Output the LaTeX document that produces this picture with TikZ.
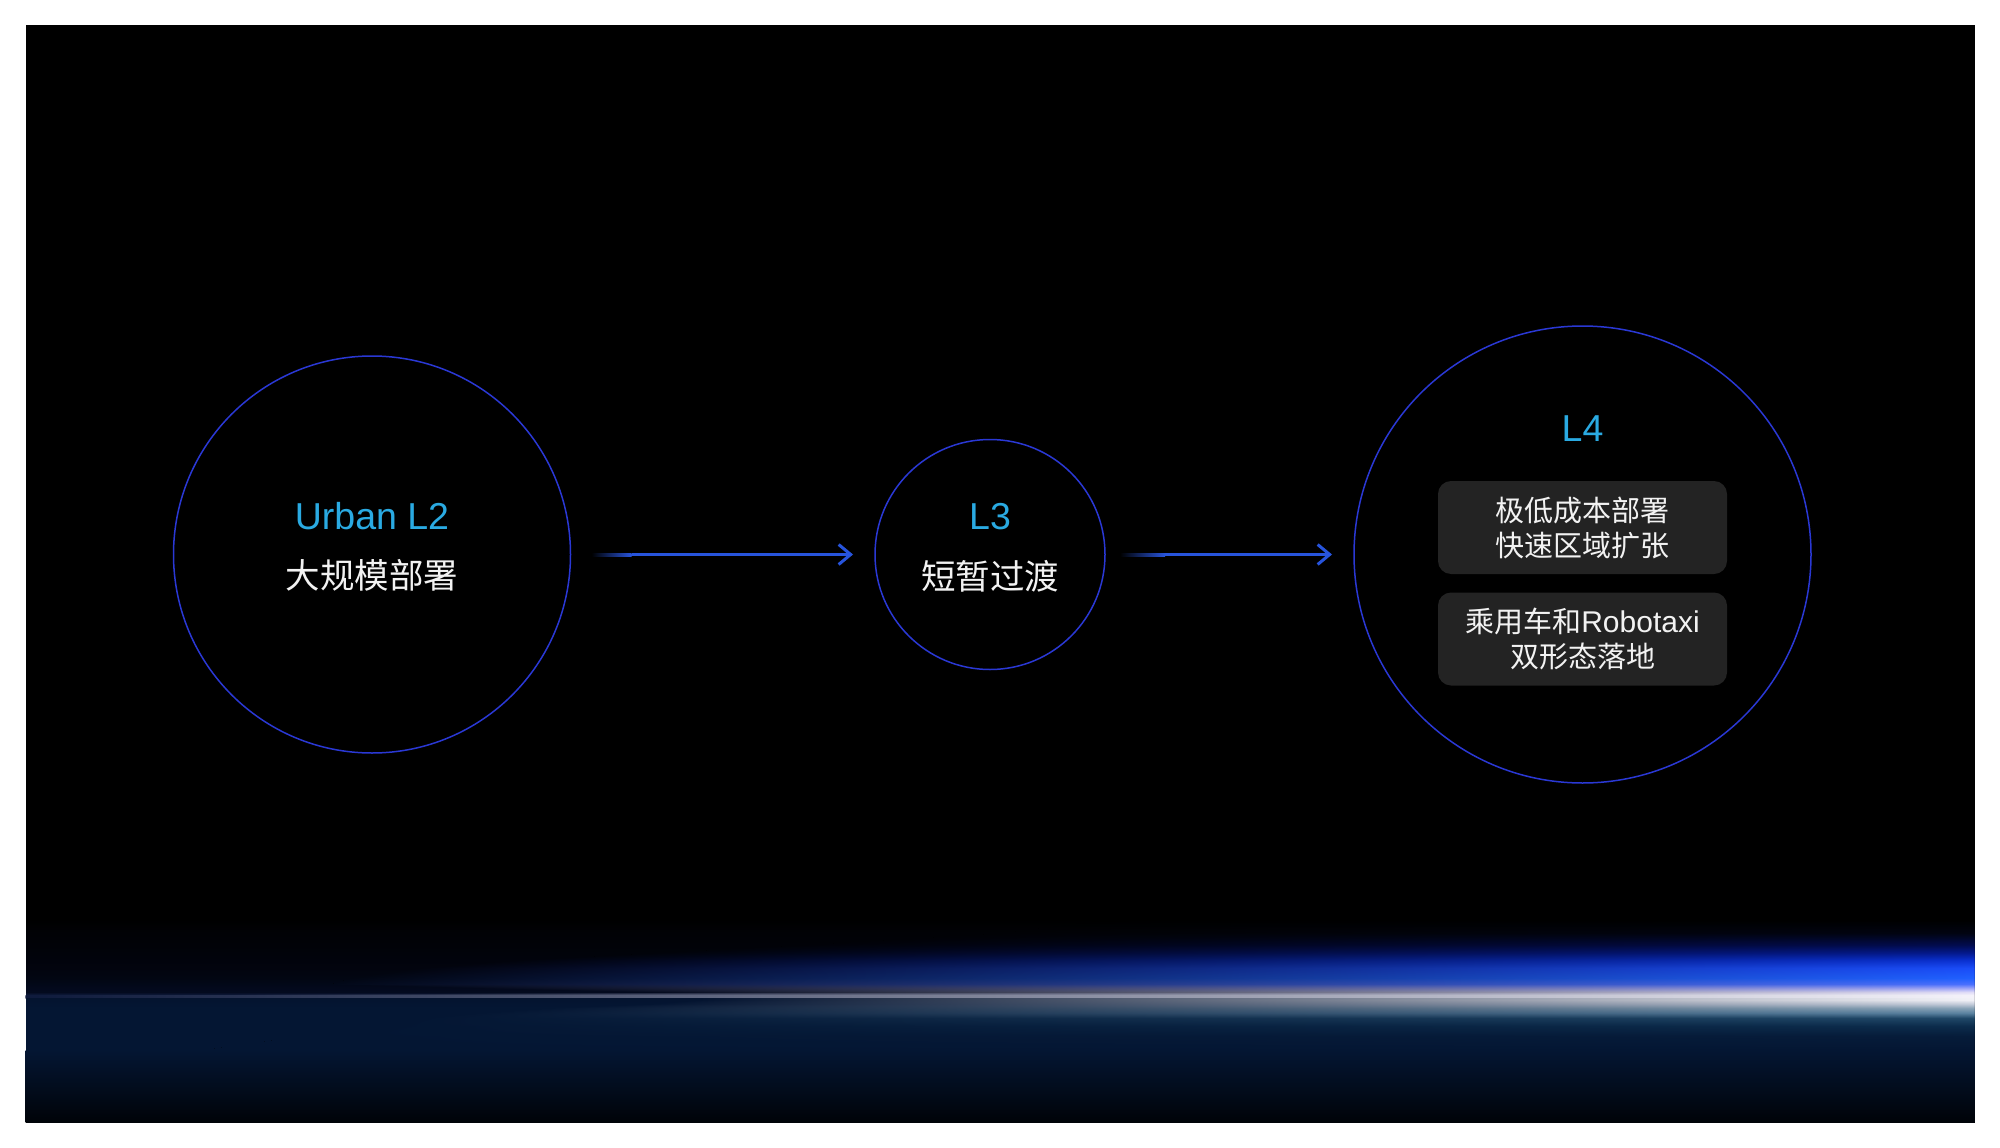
\documentclass[tikz,border=0pt]{standalone}
\usepackage{fontspec}
\setmainfont{Liberation Sans}
\newfontfamily\cjk{Noto Sans CJK SC}
\usetikzlibrary{arrows.meta,calc}

\definecolor{cyanT}{HTML}{2AAAE2}
\definecolor{txtW}{HTML}{F2F2F2}
\definecolor{ringB}{HTML}{2A38D4}
\definecolor{arrB}{HTML}{2754DC}
\definecolor{boxG}{HTML}{232323}
\definecolor{nvTop}{HTML}{041633}
\definecolor{nvMid}{HTML}{031028}
\definecolor{nvBot}{HTML}{000308}
% glow key rows: peak colour (right end), middle colour, background (left) colour
\definecolor{gP0}{HTML}{000000}\definecolor{gM0}{HTML}{000000}\definecolor{gB0}{HTML}{000000}
\definecolor{gP1}{HTML}{010412}\definecolor{gM1}{HTML}{01030E}\definecolor{gB1}{HTML}{010206}
\definecolor{gP2}{HTML}{020C50}\definecolor{gM2}{HTML}{010A3C}\definecolor{gB2}{HTML}{010208}
\definecolor{gP3}{HTML}{041A90}\definecolor{gM3}{HTML}{031670}\definecolor{gB3}{HTML}{01030A}
\definecolor{gP4}{HTML}{0A30D0}\definecolor{gM4}{HTML}{0828B0}\definecolor{gB4}{HTML}{01030C}
\definecolor{gP5}{HTML}{1A4CF8}\definecolor{gM5}{HTML}{1640E0}\definecolor{gB5}{HTML}{02040E}
\definecolor{gP6}{HTML}{2060FF}\definecolor{gM6}{HTML}{1A54F0}\definecolor{gB6}{HTML}{020612}
\definecolor{gP7}{HTML}{4A70FF}\definecolor{gM7}{HTML}{3A60F0}\definecolor{gB7}{HTML}{020818}
\definecolor{gP8}{HTML}{9CA4FA}\definecolor{gM8}{HTML}{6070E0}\definecolor{gB8}{HTML}{03091C}
\definecolor{gP9}{HTML}{E0DCF8}\definecolor{gM9}{HTML}{8090E0}\definecolor{gB9}{HTML}{030A1E}
\definecolor{gP10}{HTML}{F4F2FA}\definecolor{gM10}{HTML}{90A8E0}\definecolor{gB10}{HTML}{0E1A3C}
\definecolor{gP11}{HTML}{F4F2FA}\definecolor{gM11}{HTML}{98B4E8}\definecolor{gB11}{HTML}{0E1A3C}
\definecolor{gP12}{HTML}{F2F2F8}\definecolor{gM12}{HTML}{90A8D0}\definecolor{gB12}{HTML}{041430}
\definecolor{gP13}{HTML}{F0F0F6}\definecolor{gM13}{HTML}{8AA4CC}\definecolor{gB13}{HTML}{041430}
\definecolor{gP14}{HTML}{C4CCDA}\definecolor{gM14}{HTML}{7494B8}\definecolor{gB14}{HTML}{041532}
\definecolor{gP15}{HTML}{8AA4B8}\definecolor{gM15}{HTML}{5A7E9C}\definecolor{gB15}{HTML}{041633}
\definecolor{gP16}{HTML}{5A82A0}\definecolor{gM16}{HTML}{3E6888}\definecolor{gB16}{HTML}{041633}
\definecolor{gP17}{HTML}{204868}\definecolor{gM17}{HTML}{1A4060}\definecolor{gB17}{HTML}{041633}
\definecolor{gP18}{HTML}{0C2C4C}\definecolor{gM18}{HTML}{0A2848}\definecolor{gB18}{HTML}{041633}
\definecolor{gP19}{HTML}{061C3A}\definecolor{gM19}{HTML}{051A38}\definecolor{gB19}{HTML}{041633}
\definecolor{gP20}{HTML}{041633}\definecolor{gM20}{HTML}{041633}\definecolor{gB20}{HTML}{041633}

\tikzset{
  ring/.style={circle, draw=ringB, line width=1.5pt, inner sep=0pt, outer sep=0pt},
  headtxt/.style={text=cyanT, inner sep=0pt, font=\fontsize{37.5pt}{40pt}\selectfont},
  bigcjk/.style={text=txtW, inner sep=0pt, font=\cjk\fontsize{34.5pt}{40pt}\selectfont},
  pill/.style={fill=boxG, rounded corners=13pt, minimum width=289pt, minimum height=93pt,
    inner sep=0pt, align=center, text=txtW, font=\cjk\fontsize{29pt}{35pt}\selectfont},
  flow/.style={draw=arrB, line width=3pt, -{Straight Barb[length=12pt,width=20pt]}},
  leadin/.style={left color=black, right color=arrB},
}

\begin{document}
\begin{tikzpicture}[x=1pt,y=-1pt]
\useasboundingbox (0,0) rectangle (2000,1148);
\fill[white] (0,0) rectangle (2000,1148);
\fill[black] (25.5,25.5) rectangle (1974.5,1122.5);

% bottom light streak, drawn row by row
\foreach \ya/\yb/\ia/\ib/\xa/\xb in {
  920/933/0/1/1100/1000, 933/945/1/2/1000/800, 945/953/2/3/800/650,
  953/960/3/4/650/520, 960/968/4/5/520/420, 968/978/5/6/420/350,
  978/984/6/7/350/330, 984/988/7/8/330/480, 988/992/8/9/480/650,
  992/995/9/10/650/25.5, 995/997/10/11/25.5/25.5, 997/998/11/12/25.5/700,
  998/1000/12/13/700/700, 1000/1004/13/14/700/650, 1004/1008/14/15/650/550,
  1008/1013/15/16/550/480, 1013/1018/16/17/480/420, 1018/1026/17/18/420/380,
  1026/1036/18/19/380/300, 1036/1050/19/20/300/200}{
  \pgfmathtruncatemacro\nrows{\yb-\ya-1}
  \foreach \i in {0,...,\nrows}{
    \pgfmathsetmacro\mixp{100*\i/(\yb-\ya)}
    \pgfmathsetmacro\xst{\xa+(\xb-\xa)*\i/(\yb-\ya)}
    \pgfmathsetmacro\yr{\ya+\i}
    \colorlet{rP}{gP\ib!\mixp!gP\ia}
    \colorlet{rM}{gM\ib!\mixp!gM\ia}
    \colorlet{rB}{gB\ib!\mixp!gB\ia}
    \fill[rB] (25.5,\yr) rectangle (\xst,\yr+1);
    \shade[left color=rB, middle color=rM, right color=rP] (\xst,\yr) rectangle (1974.5,\yr+1);
  }
}
\shade[top color=nvTop, middle color=nvMid, bottom color=nvBot] (25.5,1050) rectangle (1974.5,1122.5);

% circles
\node[ring, minimum size=397pt] (c1) at (372,554.5) {};
\node[ring, minimum size=230pt] (c2) at (990,554.5) {};
\node[ring, minimum size=457pt] (c3) at (1582.5,554.5) {};

% texts
\node[headtxt] (t1) at (372,516.5) {Urban L2};
\node[bigcjk] (s1) at (372,575) {大规模部署};
\node[headtxt] (t2) at (990,516.5) {L3};
\node[bigcjk] (s2) at (990,576) {短暂过渡};
\node[headtxt] (t3) at (1582.5,429) {L4};
\node[pill] (b1) at (1582.5,527.5) {极低成本部署\\快速区域扩张};
\node[pill] (b2) at (1582.5,639) {乘用车和{\rmfamily\fontsize{30pt}{35pt}\selectfont Robotaxi}\\双形态落地};

% arrows
\coordinate (a1s) at ($(c1.east)+(21,0)$);
\coordinate (a1m) at ($(a1s)+(40,0)$);
\coordinate (a1e) at ($(c2.west)+(-22,0)$);
\coordinate (a2s) at ($(c2.east)+(15,0)$);
\coordinate (a2m) at ($(a2s)+(45,0)$);
\coordinate (a2e) at ($(c3.west)+(-22,0)$);
\shade[leadin] ($(a1s)+(0,-1.5)$) rectangle ($(a1m)+(0,1.5)$);
\draw[flow] (a1m) -- (a1e);
\shade[leadin] ($(a2s)+(0,-1.5)$) rectangle ($(a2m)+(0,1.5)$);
\draw[flow] (a2m) -- (a2e);
\end{tikzpicture}
\end{document}
